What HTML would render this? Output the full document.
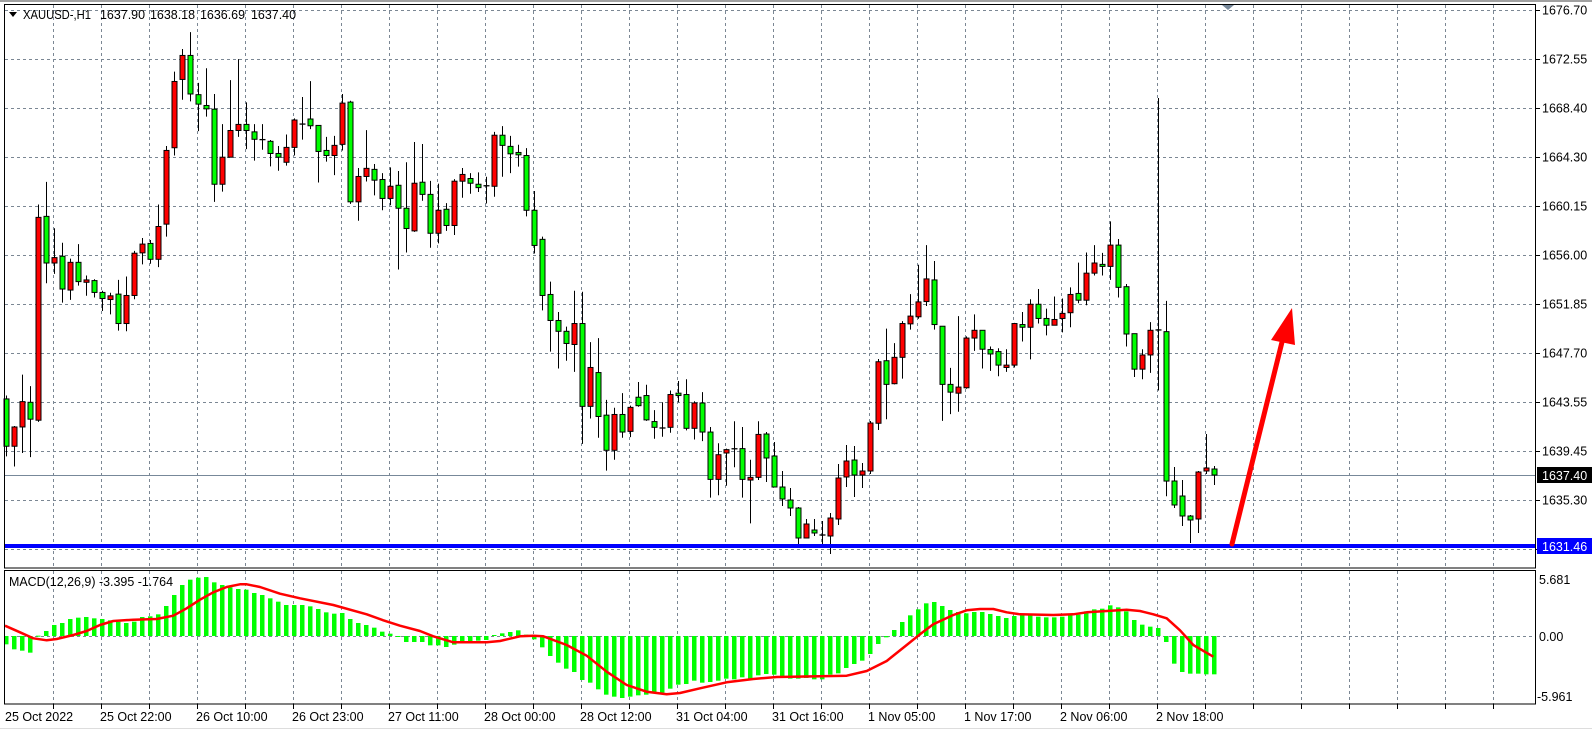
<!DOCTYPE html>
<html><head><meta charset="utf-8">
<style>
html,body{margin:0;padding:0;background:#fff;}
svg{display:block;font-family:"Liberation Sans",sans-serif;}
</style></head>
<body>
<svg id="s" width="1592" height="730" xmlns="http://www.w3.org/2000/svg">
<rect x="0" y="0" width="1592" height="730" fill="#fff"/>
<g id="grid"></g>
<g id="plot"></g>
<!-- frames -->
<line x1="0" y1="1" x2="1592" y2="1" stroke="#a0a0a0" stroke-width="2"/>
<rect x="4.5" y="4.5" width="1531" height="563.5" fill="none" stroke="#000" stroke-width="1"/>
<rect x="4.5" y="570.5" width="1531" height="133.5" fill="none" stroke="#000" stroke-width="1"/>
<line x1="0" y1="728.5" x2="1592" y2="728.5" stroke="#ddd" stroke-width="1"/>
<polygon points="1222,5 1234,5 1228,10" fill="#778899"/>
<!-- header -->
<polygon points="9,12 17,12 13,17" fill="#000"/>
<text x="23" y="19" font-size="12.5" fill="#000" textLength="68" lengthAdjust="spacingAndGlyphs">XAUUSD-,H1</text>
<text x="100" y="19" font-size="12.5" fill="#000" textLength="45" lengthAdjust="spacingAndGlyphs">1637.90</text>
<text x="150" y="19" font-size="12.5" fill="#000" textLength="45" lengthAdjust="spacingAndGlyphs">1638.18</text>
<text x="200" y="19" font-size="12.5" fill="#000" textLength="45" lengthAdjust="spacingAndGlyphs">1636.69</text>
<text x="251" y="19" font-size="12.5" fill="#000" textLength="45" lengthAdjust="spacingAndGlyphs">1637.40</text>
<text x="9" y="586" font-size="12.5" fill="#000" textLength="164" lengthAdjust="spacingAndGlyphs">MACD(12,26,9) -3.395 -1.764</text>
<!-- price axis -->
<g font-size="12.5" fill="#000">
<text x="1542" y="14.5">1676.70</text>
<text x="1542" y="63.5">1672.55</text>
<text x="1542" y="112.5">1668.40</text>
<text x="1542" y="161.5">1664.30</text>
<text x="1542" y="210.5">1660.15</text>
<text x="1542" y="259.5">1656.00</text>
<text x="1542" y="308.5">1651.85</text>
<text x="1542" y="357.5">1647.70</text>
<text x="1542" y="406.5">1643.55</text>
<text x="1542" y="455.5">1639.45</text>
<text x="1542" y="504.5">1635.30</text>
<text x="1539" y="584">5.681</text>
<text x="1539" y="641">0.00</text>
<text x="1537" y="701">-5.961</text>
</g>
<rect x="1537" y="467" width="55" height="16" fill="#000"/>
<text x="1542" y="480" font-size="12.5" fill="#fff">1637.40</text>
<rect x="1537" y="538" width="55" height="16" fill="#0000ff"/>
<text x="1542" y="551" font-size="12.5" fill="#fff">1631.46</text>
<!-- time axis -->
<g font-size="12.5" fill="#000">
<text x="5" y="721">25 Oct 2022</text>
<text x="100" y="721">25 Oct 22:00</text>
<text x="196" y="721">26 Oct 10:00</text>
<text x="292" y="721">26 Oct 23:00</text>
<text x="388" y="721">27 Oct 11:00</text>
<text x="484" y="721">28 Oct 00:00</text>
<text x="580" y="721">28 Oct 12:00</text>
<text x="676" y="721">31 Oct 04:00</text>
<text x="772" y="721">31 Oct 16:00</text>
<text x="868" y="721">1 Nov 05:00</text>
<text x="964" y="721">1 Nov 17:00</text>
<text x="1060" y="721">2 Nov 06:00</text>
<text x="1156" y="721">2 Nov 18:00</text>
</g>
</svg>
<script>
(function(){
var NS="http://www.w3.org/2000/svg";
function el(p,t,a){var e=document.createElementNS(NS,t);for(var k in a)e.setAttribute(k,a[k]);p.appendChild(e);return e;}
var G=document.getElementById('grid'),P=document.getElementById('plot');
var gc="#7b8794";
for(var k=0;k<=30;k++){var x=53+48*k;if(x>1535)break;
 el(G,'line',{x1:x+.5,y1:5,x2:x+.5,y2:568,stroke:gc,'stroke-dasharray':'3,3'});
 el(G,'line',{x1:x+.5,y1:571,x2:x+.5,y2:704,stroke:gc,'stroke-dasharray':'3,3'});
 el(G,'line',{x1:x+.5,y1:704,x2:x+.5,y2:709,stroke:'#000'});
}
for(var k=0;k<12;k++){var y=Math.round(10.1+49*k)+.5;
 el(G,'line',{x1:5,y1:y,x2:1536,y2:y,stroke:gc,'stroke-dasharray':'3,3'});
 el(G,'line',{x1:1536,y1:y,x2:1540,y2:y,stroke:'#000'});
}
el(G,'line',{x1:5,y1:636.5,x2:1536,y2:636.5,stroke:gc,'stroke-dasharray':'3,3'});
el(G,'line',{x1:5,y1:475.5,x2:1536,y2:475.5,stroke:'#778899'});
var Z=2.958;
var sz="1180,1320,1170,1350,g;1263,1320,1260,1380,r;1188,1263,1108,1340,r;1190,1240,1142,1352,g;643,1243,605,1248,r;640,778,538,838,g;762,778,675,810,r;758,855,718,895,g;776,858,765,887,r;776,833,722,845,g;828,835,815,875,r;830,865,826,880,g;865,883,860,920,g;875,886,866,930,r;870,957,828,978,g;874,957,818,980,r;749,874,742,885,r;722,748,704,782,r;720,767,710,780,g;670,767,605,790,r;445,663,432,700,r;241,437,212,460,r;164,235,145,295,r;164,278,95,300,g;280,308,245,388,g;312,322,202,345,g;323,545,278,597,g;465,545,367,567,r;386,465,237,466,r;368,386,175,405,r;368,386,303,441,g;390,412,367,475,g;412,414,367,443,d;418,454,414,492,g;454,465,432,505,g;436,480,398,490,r;355,436,350,460,r;"+
"366,368,287,413,d;352,372,240,382,g;371,448,371,540,g;445,460,405,478,g;430,460,402,518,r;305,427,278,445,r;302,597,298,603,g;522,597,497,653,r;498,522,385,537,r;501,533,485,578,g;531,587,512,622,g;551,587,495,607,r;548,616,506,797,g;616,676,480,747,g;542,683,420,686,r;539,575,426,594,g;575,690,535,733,g;622,690,543,720,r;619,667,601,683,g;536,667,530,695,r;516,536,497,585,r;528,542,512,573,g;545,555,510,568,g;548,551,523,602,d;400,551,390,582,r;400,430,373,523,g;433,455,402,512,g;451,458,428,493,g;460,622,438,640,g;622,726,565,750,g;708,874,700,918,g;871,948,833,1040,g;948,980,923,1090,g;980,1016,966,1067,g;957,1019,860,1100,r;957,1202,863,1313,g;1087,1202,1012,1238,r;1102,1232,1000,1295,g;"+
"1228,1332,1183,1392,g;1226,1332,1206,1360,r;1226,1278,1163,1295,g;1205,1276,1200,1293,r;1175,1200,1130,1203,g;1170,1242,1138,1245,g;1247,1264,1213,1298,g;1264,1268,1190,1292,d;1167,1264,1155,1280,r;1163,1170,1127,1190,g;1167,1267,1122,1273,g;1192,1267,1187,1300,r;1192,1278,1160,1305,g;1278,1418,1263,1472,g;1345,1418,1311,1465,r;1330,1340,1327,1437,r;1326,1329,1246,1382,d;1327,1418,1263,1472,g;1412,1420,1360,1548,r;1285,1412,1246,1420,r";
var sa="434,458,432,482,g;456,487,442,487,g;487,499,471,506,g;500,508,488,516,g;508,538,507,544,g;524,538,519,538,r;530,533,519,536,g;534,536,521,544,d;518,536,513,554,r;478,519,464,525,r;461,477,445,487,r;460,475,446,497,g;471,475,463,488,r;423,471,421,474,r";
var sz2="1070,1252,1062,1272,r;1067,1137,972,1240,g;1057,1135,1015,1137,r;957,1057,950,1120,r;935,958,870,975,r;893,937,783,943,r;825,892,725,905,r;828,960,772,975,g;965,1137,965,1245,g;1137,1160,1088,1225,g;1145,1163,935,1218,r;1000,1147,995,1150,r;977,1000,930,1038,r;977,1033,977,1090,g;1034,1047,1025,1097,g;1040,1080,1030,1113,g;1080,1087,1033,1100,r;957,1080,955,1087,r;960,968,923,1010,g;900,968,885,1063,r;900,942,855,957,g;942,962,913,992,g;945,962,877,963,r;927,942,883,983,r;871,925,850,968,r;868,888,777,897,g;808,888,747,903,r;778,808,725,815,r;782,788,748,815,g;725,788,655,828,r;725,850,707,880,g;848,988,840,1025,g;987,1092,987,1115,g;1050,1092,1033,1122,r;977,1050,953,1103,r;975,977,290,1155,d";
var sa2="981,1423,890,1468,g;481,505,467,508,g;496,516,480,526,g;516,520,515,543,g;472,519,471,533,r;468,471,434,474,r;469,475,466,485,g";
var C=[];
function add(s,div){s.split(';').forEach(function(t){var a=t.split(',');C.push([+a[0]/div,+a[1]/div,+a[2]/div,+a[3]/div,a[4]]);});}
add(sz,Z);add(sa,1);add(sz2,Z);
var s2=sa2.split(';');var f=s2[0].split(',');C.push([f[0]/Z,f[1]/Z,f[2]/Z,f[3]/Z,f[4]]);
add(s2.slice(1).join(';'),1);
for(var i=0;i<C.length;i++){var c=C[i],x=6+8*i;
 el(P,'line',{x1:x+.5,y1:c[2],x2:x+.5,y2:c[3],stroke:'#000','stroke-width':1});
 if(c[4]=='d'||c[1]-c[0]<1.5){el(P,'line',{x1:x-2.5,y1:(c[0]+c[1])/2,x2:x+3.5,y2:(c[0]+c[1])/2,stroke:'#000','stroke-width':1.3});}
 else el(P,'rect',{x:x-2,y:c[0],width:5,height:c[1]-c[0],fill:c[4]=='r'?'#ff0000':'#00ff00',stroke:'#000','stroke-width':1});
}
el(P,'line',{x1:5,y1:546,x2:1536,y2:546,stroke:'#0000ff','stroke-width':4});
el(P,'line',{x1:1232,y1:544,x2:1283,y2:338,stroke:'#ff0000','stroke-width':5,'stroke-linecap':'round'});
el(P,'polygon',{points:'1292,308 1271,340 1295,345',fill:'#ff0000'});
var H=[-25,-40,-44,-50,1,15,33,39,51,55,57,53,51,47,43,39,43,57,59,65,90,123,153,169,175,177,161,153,146,141,139,129,123,113,103,93,93,93,89,81,71,67,69,51,39,33,25,13,7,-3,
-18,-18,-18,-28,-28,-33,-26,-18,-16,-14,-12,3,8,12,17,4,-10,-34,-60,-80,-98,-108,-132,-140,-160,-176,-182,-186,-182,-178,-176,-170,-170,-158,-146,-144,-134,-140,-138,-134,-128,-130,-124,-128,-118,-114,-116,-124,-128,-128,-126,-130,
-130,-116,-112,-96,-84,-74,-54,-24,-4,18,42,62,80,98,102,90,78,72,68,72,72,66,60,54,60,62,62,58,56,56,58,62,64,74,80,82,92,86,74,48,34,28,24,-18,-83,-108,-113,-113,-115,-115];
for(var i=0;i<H.length;i++){var x=6+8*i,h=H[i]/3;
 el(P,'rect',{x:x-2,y:h>0?636-h:636,width:4.5,height:Math.max(Math.abs(h),1),fill:'#00ff00'});}
var S=[[5,625.7],[20,632.3],[33.3,638.3],[46.7,640.3],[56.7,639],[73.3,635],[86.7,631],[100,625],[113.3,621],[133.3,619.7],[156.7,619],[173.3,615.7],[186.7,608.3],[200,599.7],[213.3,592.3],[226.7,587],[240,584.3],[246.7,584.3],[260,587],[280,593.7],[300,598.3],[333.3,605],[366.7,614.3],[383.3,620.3],[400,625.7],[420,631],[433.3,636.3],[453.3,642.3],[486.7,642.3],[500,641],[520,636.3],[533.3,635.7],[543.3,636.3],[566.7,645],[586.7,655.7],[606.7,671.7],[626.7,685],[646.7,691.7],[666.7,694.3],[680,693],[700,688.3],[726.7,682.3],[753.3,679],[776.7,677],[820,676.3],[846.7,675.7],[866.7,671],[886.7,661],[906.7,645],[920,634.3],[933.3,624.3],[953.3,615],[966.7,610.3],[980,609],[993.3,609],[1006.7,612.3],[1020,614.3],[1053.3,615],[1073.3,614.3],[1086.7,612.3],[1106.7,611],[1126.7,609.7],[1140,611],[1153.3,614.3],[1166.7,618.3],[1180,630.3],[1193.3,645],[1213.3,656.7]];
el(P,'polyline',{points:S.map(function(p){return p.join(',');}).join(' '),fill:'none',stroke:'#ff0000','stroke-width':2.5,'stroke-linejoin':'round'});
})();
</script>
</body></html>
